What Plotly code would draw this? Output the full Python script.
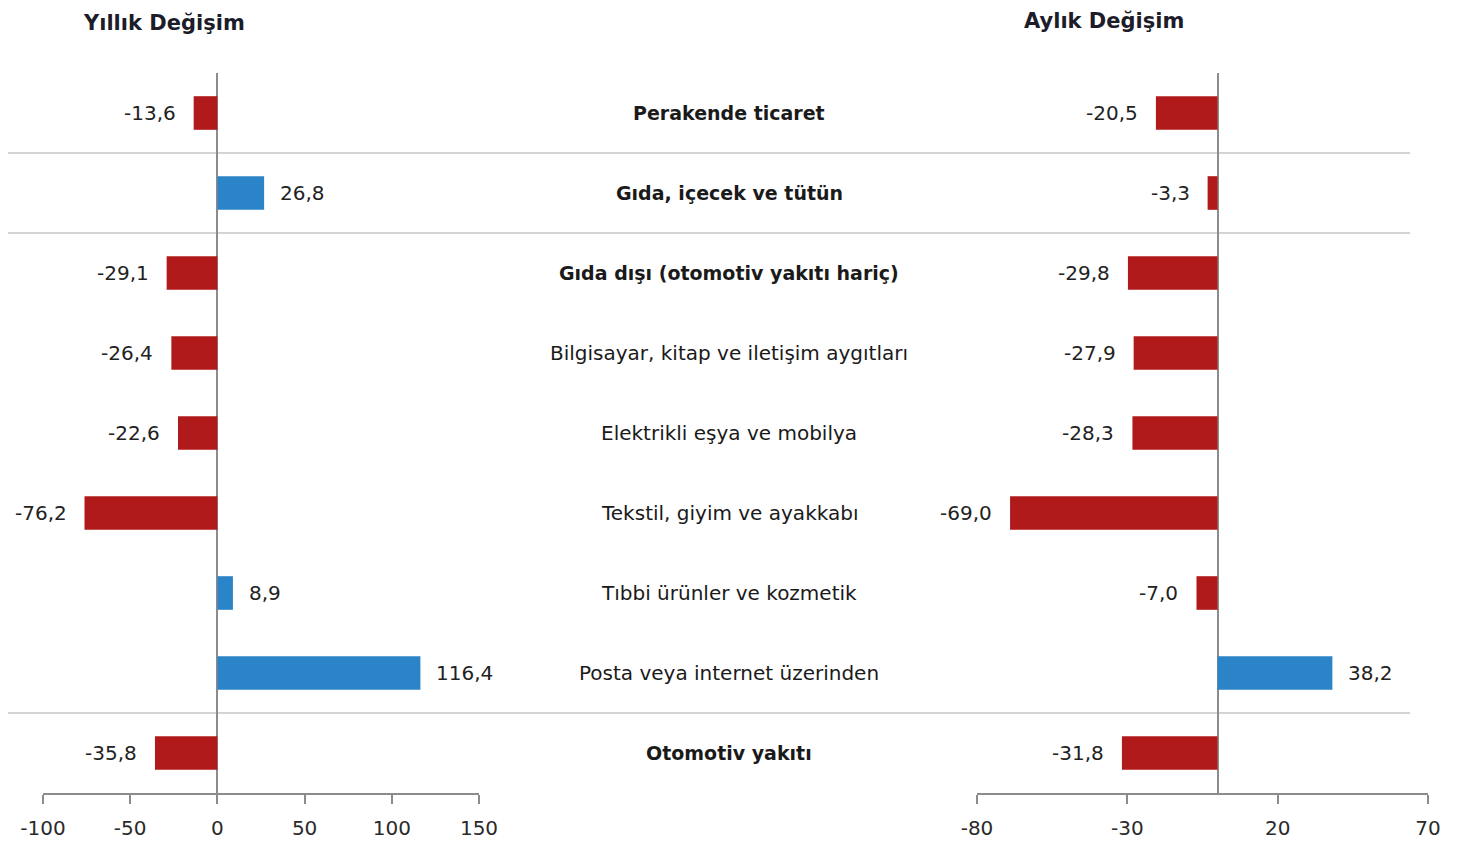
import plotly.graph_objects as go

categories = [
    "Perakende ticaret",
    "Gıda, içecek ve tütün",
    "Gıda dışı (otomotiv yakıtı hariç)",
    "Bilgisayar, kitap ve iletişim aygıtları",
    "Elektrikli eşya ve mobilya",
    "Tekstil, giyim ve ayakkabı",
    "Tıbbi ürünler ve kozmetik",
    "Posta veya internet üzerinden",
    "Otomotiv yakıtı",
]
bold_rows = [True, True, True, False, False, False, False, False, True]
annual_change = [-13.6, 26.8, -29.1, -26.4, -22.6, -76.2, 8.9, 116.4, -35.8]
monthly_change = [-20.5, -3.3, -29.8, -27.9, -28.3, -69.0, -7.0, 38.2, -31.8]
left_ticks = [-100, -50, 0, 50, 100, 150]
right_ticks = [-80, -30, 20, 70]
separators_after = [0, 1, 7]  # separator line below these row indices

RED = "#B01A1A"
BLUE = "#2B83C8"
FONT = "DejaVu Sans"
OFF = 8            # page body margin
W, H = 1460 - OFF, 846 - OFF

def fmt(v):
    return f"{v:.1f}".replace(".", ",")

def px_x(p):
    return (p - OFF) / W

def px_y(p):
    return 1 - (p - OFF) / H

fig = go.Figure()
fig.add_trace(go.Bar(
    y=categories, x=annual_change, orientation="h",
    marker=dict(color=[RED if v < 0 else BLUE for v in annual_change], line=dict(width=0)),
    width=0.42, xaxis="x", yaxis="y", hoverinfo="skip", showlegend=False,
))
fig.add_trace(go.Bar(
    y=categories, x=monthly_change, orientation="h",
    marker=dict(color=[RED if v < 0 else BLUE for v in monthly_change], line=dict(width=0)),
    width=0.42, xaxis="x2", yaxis="y", hoverinfo="skip", showlegend=False,
))

LABEL_FONT = dict(family=FONT, size=20, color="#222222")
annotations = []
for cat, v in zip(categories, annual_change):
    annotations.append(dict(
        x=v, y=cat, xref="x", yref="y", text=fmt(v), showarrow=False,
        xanchor="right" if v < 0 else "left", xshift=-16 if v < 0 else 14,
        font=LABEL_FONT,
    ))
for cat, v in zip(categories, monthly_change):
    annotations.append(dict(
        x=v, y=cat, xref="x2", yref="y", text=fmt(v), showarrow=False,
        xanchor="right" if v < 0 else "left", xshift=-16 if v < 0 else 14,
        font=LABEL_FONT,
    ))
for cat, b in zip(categories, bold_rows):
    annotations.append(dict(
        x=px_x(729), y=cat, xref="paper", yref="y",
        text=f"<b>{cat}</b>" if b else cat, showarrow=False,
        xanchor="center", font=dict(family=FONT, size=19 if b else 20, color="#1a1a1a"),
    ))
annotations.append(dict(
    x=px_x(164), y=px_y(10), xref="paper", yref="paper", text="<b>Yıllık Değişim</b>",
    showarrow=False, xanchor="center", yanchor="top", borderpad=0,
    font=dict(family=FONT, size=21, color="#1c1c2a"),
))
annotations.append(dict(
    x=px_x(1104), y=1, xref="paper", yref="paper", text="<b>Aylık Değişim</b>",
    showarrow=False, xanchor="center", yanchor="top", borderpad=0,
    font=dict(family=FONT, size=21, color="#1c1c2a"),
))

shapes = []
for i in separators_after:
    shapes.append(dict(
        type="line", xref="paper", yref="y", x0=px_x(5), x1=px_x(1410),
        y0=i + 0.5, y1=i + 0.5, line=dict(color="#d4d4d4", width=2), layer="below",
    ))

axis_common = dict(
    showgrid=False, zeroline=True, zerolinecolor="#8c8c8c", zerolinewidth=2,
    showline=True, linecolor="#8c8c8c", linewidth=2,
    ticks="outside", ticklen=9, tickwidth=2, tickcolor="#8c8c8c",
    tickfont=dict(family=FONT, size=20, color="#2a2a2a"),
    ticklabelstandoff=7,
    fixedrange=True, automargin=False,
)

fig.update_layout(
    width=W, height=H,
    margin=dict(l=0, r=0, t=0, b=0, pad=0, autoexpand=False),
    paper_bgcolor="white", plot_bgcolor="white",
    barmode="overlay",
    xaxis=dict(domain=[px_x(43), px_x(479)], range=[-100, 150],
               tickvals=left_ticks, ticktext=[str(t) for t in left_ticks],
               anchor="y", **axis_common),
    xaxis2=dict(domain=[px_x(977), px_x(1428)], range=[-80, 70],
                tickvals=right_ticks, ticktext=[str(t) for t in right_ticks],
                anchor="y", **axis_common),
    yaxis=dict(domain=[px_y(793), px_y(73)], autorange="reversed",
               showticklabels=False, showgrid=False, showline=False, zeroline=False,
               ticks="", fixedrange=True, automargin=False),
    annotations=annotations,
    shapes=shapes,
    font=dict(family=FONT),
)

fig.write_html("out.html")
